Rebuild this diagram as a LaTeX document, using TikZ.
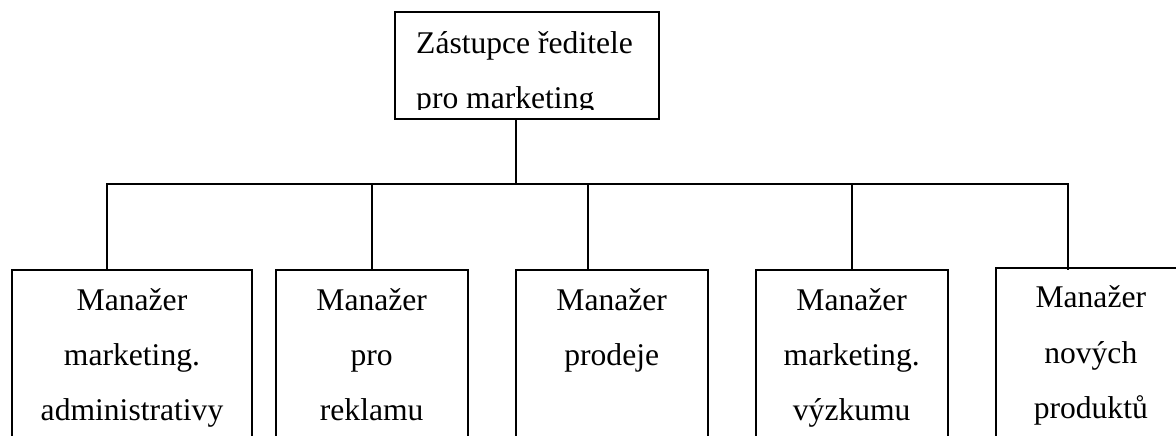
\documentclass[tikz,border=0pt]{standalone}
\usepackage{fontspec}
\setmainfont{Liberation Serif}
\begin{document}
\begin{tikzpicture}[x=1pt,y=-1pt,
  box/.style={draw, line width=2pt, rectangle, inner sep=0pt},
  link/.style={line width=2pt},
  lbl/.style={anchor=base, inner sep=0pt, font=\fontsize{31.6}{55}\selectfont}]
\useasboundingbox (0,0) rectangle (1176,436);
\clip (0,0) rectangle (1176,436);
% boxes
\node[box, minimum width=264pt, minimum height=107pt] (top) at (527,65.5) {};
\node[box, minimum width=240pt, minimum height=230pt] (b1) at (132,385) {};
\node[box, minimum width=192pt, minimum height=230pt] (b2) at (371.7,385) {};
\node[box, minimum width=192pt, minimum height=230pt] (b3) at (611.7,385) {};
\node[box, minimum width=192pt, minimum height=230pt] (b4) at (851.7,385) {};
\node[box, minimum width=204pt, minimum height=232pt] (b5) at (1097.7,384) {};
% top text (clipped at bottom like the reference)
\begin{scope}
\clip (top.north west) rectangle ([yshift=11pt]top.south east);
\node[lbl, anchor=base west] (t1) at (416,53.3) {Zástupce ředitele};
\node[lbl, anchor=base west] (t2) at (416,108) {pro marketing};
\end{scope}
% connectors
\coordinate (s0) at (515.7,184);
\coordinate (s1) at (107,184);
\coordinate (s2) at (371.7,184);
\coordinate (s3) at (587.7,184);
\coordinate (s4) at (851.7,184);
\coordinate (s5) at (1067.7,184);
\draw[link] (top.south -| s0) -- (s0);
\draw[link] (s1 |- b1.north) -- (s1) -- (s5) -- ([yshift=-3pt]s5 |- b5.north);
\draw[link] (s2) -- (s2 |- b2.north);
\draw[link] (s3) -- (s3 |- b3.north);
\draw[link] (s4) -- (s4 |- b4.north);
% labels
\node[lbl] (a1) at (132,310) {Manažer};
\node[lbl] (a2) at (132,365) {marketing.};
\node[lbl] (a3) at (132,420) {administrativy};
\node[lbl] (r1) at (371.7,310) {Manažer};
\node[lbl] (r2) at (371.7,365) {pro};
\node[lbl] (r3) at (371.7,420) {reklamu};
\node[lbl] (p1) at (611.7,310) {Manažer};
\node[lbl] (p2) at (611.7,365) {prodeje};
\node[lbl] (v1) at (851.7,310) {Manažer};
\node[lbl] (v2) at (851.7,365) {marketing.};
\node[lbl] (v3) at (851.7,420) {výzkumu};
\node[lbl] (n1) at (1090.8,307) {Manažer};
\node[lbl] (n2) at (1090.8,363) {nových};
\node[lbl] (n3) at (1090.8,418) {produktů};
\end{tikzpicture}
\end{document}
